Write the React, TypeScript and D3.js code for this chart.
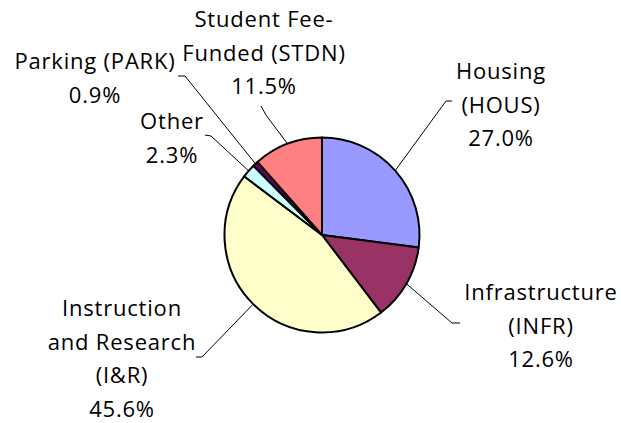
import * as d3 from "d3";
import { useEffect, useRef } from "react";

// chart data
const categories = [
  "Housing (HOUS)",
  "Infrastructure (INFR)",
  "Instruction and Research (I&R)",
  "Other",
  "Parking (PARK)",
  "Student Fee-Funded (STDN)",
];
const shares = [27.0, 12.6, 45.6, 2.3, 0.9, 11.5];
const labelLines = [
  ["Housing", "(HOUS)"],
  ["Infrastructure", "(INFR)"],
  ["Instruction", "and Research", "(I&R)"],
  ["Other"],
  ["Parking (PARK)"],
  ["Student Fee-", "Funded (STDN)"],
];
const colors = ["#9999FF", "#993366", "#FFFFCC", "#CCFFFF", "#660066", "#FF8080"];

// label layout (text centre x, first baseline y, leader elbow, leader tick end)
const labelLayout = [
  { x: 501, y: 79, elbow: [446, 101], tick: [452, 101] },
  { x: 541, y: 300, elbow: [452, 323], tick: [460, 323] },
  { x: 122, y: 316, elbow: [202, 357], tick: [196, 357] },
  { x: 172, y: 129, elbow: [211, 136], tick: [205, 135] },
  { x: 95, y: 69, elbow: [185, 76], tick: [178, 76] },
  { x: 264, y: 27, elbow: [266, 115], tick: [261, 106] },
];

export default function App() {
  const ref = useRef<HTMLDivElement>(null);

  useEffect(() => {
    const width = 621;
    const height = 423;
    const cx = 322;
    const cy = 235;
    const radius = 97.5;
    const lineHeight = 33.5;

    d3.select(ref.current).select("svg").remove();

    const svg = d3
      .select(ref.current)
      .append("svg")
      .attr("width", width)
      .attr("height", height)
      .style("position", "absolute")
      .style("left", 0)
      .style("top", 0)
      .style("background", "#fff");

    const data = shares.map((v, i) => ({ v, i, name: categories[i] }));
    const pie = d3
      .pie<{ v: number; i: number; name: string }>()
      .value((d) => d.v)
      .sort(null);
    const arcs = pie(data);

    const arc = d3.arc<any>().innerRadius(0).outerRadius(radius);
    const edge = d3.arc<any>().innerRadius(radius).outerRadius(radius);

    const g = svg.append("g").attr("transform", `translate(${cx},${cy})`);

    g.selectAll("path")
      .data(arcs)
      .enter()
      .append("path")
      .attr("d", arc)
      .attr("fill", (d) => colors[d.data.i])
      .attr("stroke", "#000")
      .attr("stroke-width", 2)
      .attr("stroke-linejoin", "round");

    // leader lines
    svg
      .selectAll("polyline")
      .data(arcs)
      .enter()
      .append("polyline")
      .attr("points", (d) => {
        const [px, py] = edge.centroid(d);
        const l = labelLayout[d.data.i];
        return `${px + cx},${py + cy} ${l.elbow[0]},${l.elbow[1]} ${l.tick[0]},${l.tick[1]}`;
      })
      .attr("fill", "none")
      .attr("stroke", "#000")
      .attr("stroke-width", 1);

    // labels
    const labels = svg
      .selectAll("text")
      .data(arcs)
      .enter()
      .append("text")
      .attr("text-anchor", "middle")
      .attr("font-family", "'Open Sans', sans-serif")
      .attr("font-size", 22)
      .attr("letter-spacing", 0.8)
      .attr("fill", "#000");

    labels.each(function (d) {
      const l = labelLayout[d.data.i];
      const lines = [...labelLines[d.data.i], `${d.data.v.toFixed(1)}%`];
      d3.select(this)
        .selectAll("tspan")
        .data(lines)
        .enter()
        .append("tspan")
        .attr("x", l.x)
        .attr("y", (_, k) => l.y + k * lineHeight)
        .text((t) => t);
    });
  }, []);

  return <div ref={ref}></div>;
}
